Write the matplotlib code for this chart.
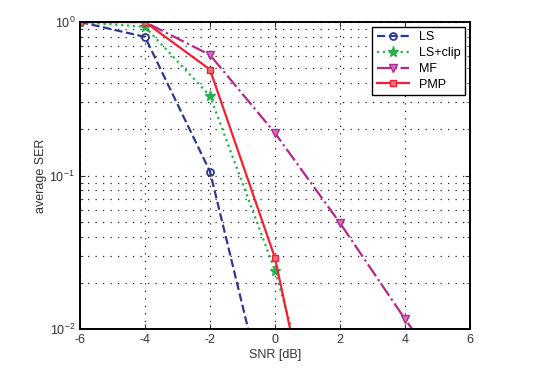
import matplotlib.pyplot as plt
from matplotlib.ticker import LogLocator, NullFormatter

# SER curves
snr_ls = [-6, -4, -2, 0]
ser_ls = [1.0, 0.80, 0.106, 0.0019]

snr_clip = [-6, -4, -2, 0, 2]
ser_clip = [1.0, 0.93, 0.33, 0.024, 0.0008]

snr_mf = [-6, -4, -2, 0, 2, 4, 6]
ser_mf = [1.0, 1.0, 0.61, 0.189, 0.049, 0.0116, 0.003]

snr_pmp = [-6, -4, -2, 0, 2]
ser_pmp = [1.0, 1.0, 0.49, 0.029, 0.0003]

plt.rcParams['font.family'] = ['Liberation Sans', 'DejaVu Sans']
plt.rcParams['axes.unicode_minus'] = False

fig = plt.figure(figsize=(5.57, 3.79), dpi=100)
ax = fig.add_axes([80 / 557, 1 - 329 / 379, 390 / 557, 307 / 379])

ax.plot(snr_ls, ser_ls, '--o', color='#2e3a8f', lw=1.6, ms=5,
        mfc='none', mew=1.3, label='LS')
ax.plot(snr_clip, ser_clip, ':*', color='#27b04e', lw=1.6, ms=8,
        label='LS+clip')
ax.plot(snr_mf, ser_mf, '-.v', color='#b02a8a', lw=1.6, ms=6,
        mfc='#d070c0', label='MF')
ax.plot(snr_pmp, ser_pmp, '-s', color='#ee2233', lw=1.6, ms=5,
        mfc='#f07080', label='PMP')

ax.set_yscale('log')
ax.set_xlim(-6, 6)
ax.set_ylim(1e-2, 1)
ax.set_xticks([-6, -4, -2, 0, 2, 4, 6])
ax.yaxis.set_minor_locator(LogLocator(base=10, subs=range(2, 10)))
ax.yaxis.set_minor_formatter(NullFormatter())

ax.grid(True, which='major', color='#222222', linestyle=(0, (1, 5)), lw=0.9)
ax.grid(True, which='minor', axis='y', color='#222222',
        linestyle=(0, (1, 5)), lw=0.9)
ax.tick_params(which='both', direction='in', top=True, right=True,
               labelsize=9, colors='#333333')
for s in ax.spines.values():
    s.set_linewidth(1.4)

ax.set_xlabel('SNR [dB]', fontsize=9, color='#333333', labelpad=2)
ax.set_ylabel('average SER', fontsize=9, color='#333333', labelpad=2)

leg = ax.legend(loc='upper right', fontsize=9, fancybox=False,
                edgecolor='black', framealpha=1, borderpad=0.35,
                labelspacing=0.3, handlelength=2.6, borderaxespad=0.4)
leg.get_frame().set_linewidth(1.0)

fig.savefig('out.png', dpi=100)
